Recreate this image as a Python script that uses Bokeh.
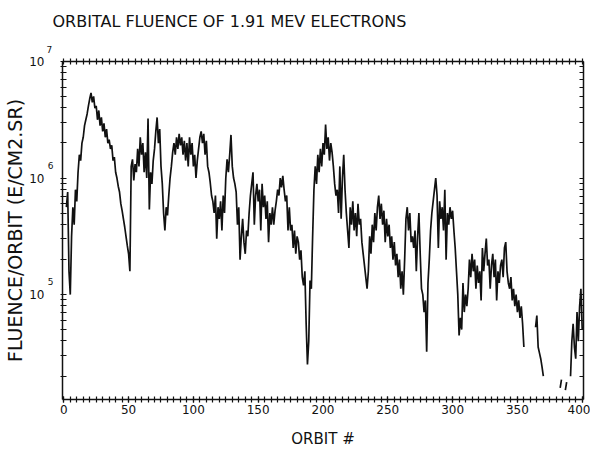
import math
from bokeh.plotting import figure
from bokeh.models import Range1d, LinearAxis, FixedTicker, CustomJSTickFormatter, Title
from bokeh.embed import file_html
from bokeh.resources import INLINE

nan = float("nan")

# ---- data ----
orbit = list(range(0, 401))
log_fluence = [
    nan, nan, 5.75, 5.88, 5.2, 5.0, 5.5, 5.75, 5.6, 5.9,
    5.8, 6.05, 6.2, 6.15, 6.3, 6.35, 6.45, 6.5, 6.55, 6.62,
    6.68, 6.73, 6.65, 6.7, 6.6, 6.62, 6.5, 6.58, 6.45, 6.52,
    6.4, 6.47, 6.35, 6.42, 6.3, 6.33, 6.25, 6.28, 6.15, 6.18,
    6.05, 6.0, 5.93, 5.88, 5.78, 5.72, 5.65, 5.58, 5.5, 5.42,
    5.35, 5.2, 6.1, 6.16, 5.98, 6.12, 6.05, 6.25, 6.1, 6.35,
    6.2, 6.3, 6.05, 6.22, 6.0, 6.51, 5.73, 6.05, 5.95, 6.15,
    6.25, 6.4, 6.52, 6.3, 6.42, 6.1, 5.95, 5.7, 5.55, 5.75,
    5.68, 5.85, 6.0, 6.1, 6.22, 6.3, 6.2, 6.35, 6.25, 6.38,
    6.28, 6.35, 6.2, 6.32, 6.15, 6.3, 6.1, 6.35, 6.2, 6.3,
    6.1, 6.2, 6.0, 6.15, 6.25, 6.35, 6.4, 6.3, 6.38, 6.2,
    6.32, 6.1, 6.05, 5.96, 5.85, 5.8, 5.7, 5.85, 5.48, 5.75,
    5.65, 5.8, 5.55, 5.85, 5.7, 6.0, 6.16, 6.05, 6.2, 6.37,
    6.1, 6.0, 5.95, 5.88, 5.6, 5.75, 5.3, 5.5, 5.65, 5.45,
    5.35, 5.55, 5.5, 5.7, 5.85, 5.95, 6.05, 5.6, 5.85, 5.95,
    5.8, 5.9, 5.55, 5.95, 5.75, 5.85, 5.65, 5.8, 5.45, 5.7,
    5.6, 5.75, 5.6, 5.72, 5.8, 5.9, 5.85, 6.0, 5.92, 6.02,
    5.9, 5.8, 5.85, 5.55, 5.75, 5.55, 5.6, 5.4, 5.55, 5.35,
    5.5, 5.45, 5.3, 5.38, 5.15, 5.08, 5.2, 4.75, 4.4, 4.6,
    5.12, 5.05, 5.5, 5.9, 6.1, 5.95, 6.2, 6.05, 6.25, 6.1,
    6.3, 6.2, 6.46, 6.25, 6.35, 6.15, 6.3, 6.22, 6.1, 5.95,
    5.85, 5.9, 5.7, 6.1, 5.65, 6.0, 6.2, 5.9, 5.7, 5.55,
    5.4, 5.75, 5.6, 5.8, 5.55, 5.7, 5.5, 5.78, 5.6, 5.65,
    5.45, 5.35, 5.25, 5.15, 5.05, 5.2, 5.5, 5.35, 5.6, 5.45,
    5.7, 5.55, 5.75, 5.85, 5.65, 5.78, 5.6, 5.72, 5.45, 5.65,
    5.5, 5.6, 5.4, 5.5, 5.3, 5.45, 5.25, 5.35, 5.15, 5.3,
    5.05, 5.2, 5.0, 5.3, 5.65, 5.75, 5.55, 5.7, 5.45, 5.5,
    5.4, 5.55, 5.2, 5.5, 5.7, 5.35, 5.05, 5.0, 4.85, 4.95,
    4.51, 5.1, 5.3, 5.55, 5.7, 5.8, 5.9, 6.0, 5.85, 5.4,
    5.8, 5.65, 5.75, 5.55, 5.9, 5.3, 5.7, 5.6, 5.75, 5.65,
    5.72, 5.55, 5.4, 5.2, 5.0, 4.65, 4.8, 4.7, 5.1, 4.85,
    5.0, 4.9, 5.05, 5.3, 5.15, 5.35, 5.2, 5.3, 5.05, 5.25,
    5.1, 5.2, 4.95, 5.4, 5.2, 5.35, 5.48, 5.25, 5.3, 5.05,
    5.25, 5.35, 5.15, 5.3, 4.95, 5.2, 5.1, 5.25, 5.3, 5.15,
    5.4, 5.45, 5.2, 5.1, 5.05, 5.15, 4.95, 5.05, 4.9, 5.0,
    4.85, 4.95, 4.8, 4.9, 4.75, 4.55, nan, nan, nan, nan,
    nan, nan, nan, nan, 4.72, 4.82, 4.55, 4.5, 4.45, 4.38,
    4.3, nan, nan, nan, nan, nan, nan, nan, nan, nan,
    nan, nan, nan, 4.2, 4.27, nan, nan, 4.18, 4.25, nan,
    nan, 4.3, 4.6, 4.75, 4.55, 4.45, 4.85, 4.6, 4.9, 5.05,
    4.7,
]
x_ticks = [0, 50, 100, 150, 200, 250, 300, 350, 400]
y_decades = [5, 6, 7]
title_text = "ORBITAL FLUENCE OF 1.91 MEV ELECTRONS"
x_label = "ORBIT #"
y_label = "FLUENCE/ORBIT (E/CM2.SR)"

fluence = [10 ** v if v == v else nan for v in log_fluence]

FONT = "DejaVu Sans"
INK = "#111111"
EXP_RAISE = 0.11   # exponent drawn a little above its decade (in decades)
LOG_MIN, LOG_MAX = 4.1, 7.0
xr = Range1d(-1, 401)
yr = Range1d(10 ** LOG_MIN, 10 ** LOG_MAX)

x_minor = list(range(0, 401, 5))
y_minor = [m * 10 ** k for k in [4, 5, 6] for m in range(1, 10)] + [10 ** 7]

p = figure(width=590, height=450, output_backend="svg", toolbar_location=None,
           x_range=xr, y_range=yr, y_axis_type="log",
           min_border_left=62, min_border_right=7, min_border_top=61,
           min_border_bottom=48, title=title_text)
p.outline_line_color = None
p.grid.visible = False

p.title.text_font = FONT
p.title.text_font_size = "16px"
p.title.text_font_style = "normal"
p.title.text_color = INK
p.title.align = "left"
p.title.offset = -10
p.title.standoff = 13

# bottom axis
xa = p.xaxis[0]
xa.ticker = FixedTicker(ticks=x_ticks, minor_ticks=x_minor)
xa.major_tick_in = 3
xa.major_tick_out = 3
xa.minor_tick_in = 3
xa.minor_tick_out = 3
xa.major_label_standoff = 2
xa.axis_label = x_label
xa.axis_label_standoff = 13
xa.axis_label_text_font = FONT
xa.axis_label_text_font_size = "15px"
xa.axis_label_text_font_style = "normal"
xa.major_label_text_font = FONT
xa.major_label_text_font_size = "12px"

# left axis (A): line and log tick marks
ya = p.yaxis[0]
ya.ticker = FixedTicker(ticks=[], minor_ticks=y_minor)
ya.major_label_standoff = 0
ya.minor_tick_in = 4
ya.minor_tick_out = 2

# left axis (B): exponents, slightly above each decade (inside the frame range)
exp_ticks = [10 ** (k + EXP_RAISE) for k in y_decades if k + EXP_RAISE <= LOG_MAX]
yb = LinearAxis(ticker=FixedTicker(ticks=exp_ticks),
                formatter=CustomJSTickFormatter(code="return String(Math.floor(Math.log10(tick) + 1e-9));"),
                major_label_standoff=7, major_tick_in=0, major_tick_out=0,
                minor_tick_in=0, minor_tick_out=0,
                major_label_text_font=FONT, major_label_text_font_size="9px")
yb.axis_line_color = None
yb.major_tick_line_color = None
yb.minor_tick_line_color = None
p.add_layout(yb, "left")

# left axis (C): "10" mantissas and the axis title
yc = LinearAxis(ticker=FixedTicker(ticks=[10 ** k for k in y_decades]),
                major_label_overrides={10 ** k: "10" for k in y_decades},
                major_label_standoff=0, major_tick_in=0, major_tick_out=0,
                minor_tick_in=0, minor_tick_out=0,
                major_label_text_font=FONT, major_label_text_font_size="12px",
                axis_label=y_label, axis_label_standoff=0,
                axis_label_text_font=FONT, axis_label_text_font_size="19px",
                axis_label_text_font_style="normal")
yc.axis_line_color = None
yc.major_tick_line_color = None
yc.minor_tick_line_color = None
p.add_layout(yc, "left")

# top axis: tick marks only
ta = LinearAxis(ticker=FixedTicker(ticks=[], minor_ticks=x_minor),
                major_label_standoff=0, minor_tick_in=3, minor_tick_out=3)
p.add_layout(ta, "above")

# exponent of the top decade (sits above the frame)
top_exp = [str(k) for k in y_decades if k + EXP_RAISE > LOG_MAX]
for t in top_exp:
    p.add_layout(Title(text=t, align="left", offset=-16, standoff=12,
                       text_font=FONT, text_font_size="9px",
                       text_font_style="normal", text_color=INK), "above")

# right axis: tick marks only
ra = LinearAxis(ticker=FixedTicker(ticks=[], minor_ticks=y_minor),
                major_label_standoff=0, minor_tick_in=4, minor_tick_out=0)
p.add_layout(ra, "right")

for ax in [xa, ya, ta, ra]:
    ax.axis_line_width = 1.5
    ax.axis_line_color = INK
    ax.major_tick_line_color = INK
    ax.minor_tick_line_color = INK
    ax.major_tick_line_width = 1.2
    ax.minor_tick_line_width = 1.2
for ax in [xa, ya, yb, yc, ta, ra]:
    ax.major_label_text_color = INK
    ax.axis_label_text_color = INK

p.line(orbit, fluence, line_color=INK, line_width=1.7)

open("out.html", "w").write(file_html(p, INLINE))
